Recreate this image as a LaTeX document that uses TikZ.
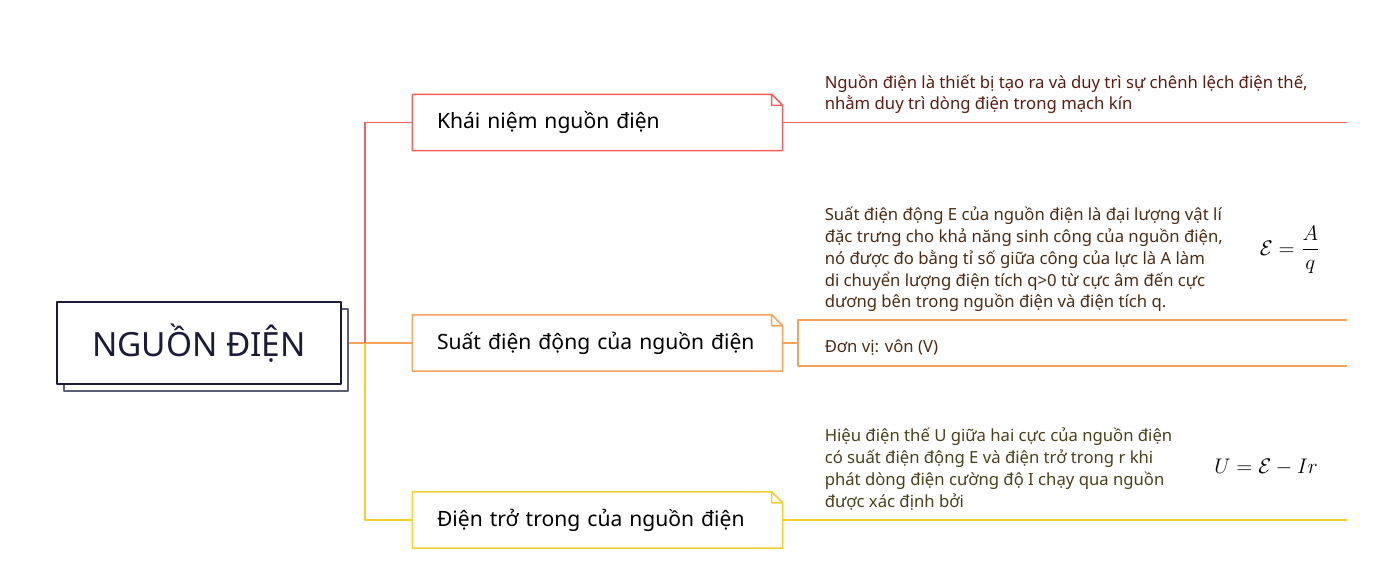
\documentclass[tikz,border=0pt]{standalone}
\usepackage{fontspec}
\setmainfont{Noto Sans}
\usetikzlibrary{shadows,calc}
\definecolor{navy}{HTML}{1B1B3A}
\definecolor{navyshade}{HTML}{5B5E78}
\definecolor{redline}{HTML}{F25F5C}
\definecolor{orangeline}{HTML}{F7A25B}
\definecolor{yellowline}{HTML}{F3D02E}
\definecolor{redtext}{HTML}{5E1A0F}
\definecolor{orangetext}{HTML}{4E2C12}
\definecolor{yellowtext}{HTML}{4A4019}
\begin{document}
\begin{tikzpicture}[x=0.02cm,y=-0.02cm,line join=round,line width=0.85pt,
  mainbox/.style={draw=navy,line width=1pt,fill=white,minimum width=5.68cm,minimum height=1.64cm,
    font=\fontsize{19}{22}\selectfont,text=navy,
    copy shadow={shadow xshift=0.14cm,shadow yshift=-0.14cm,draw=navyshade,fill=white}},
  branch/.style={minimum width=7.38cm,minimum height=1.1cm,text width=6.42cm,inner xsep=0.48cm,
    inner ysep=0pt,align=left,font=\fontsize{12}{14}\selectfont},
  leaf/.style={anchor=base west,inner sep=0pt,align=left,font=\fontsize{9.5}{12.5}\selectfont},
  formula/.style={font=\fontsize{12.5}{15}\selectfont}]
\useasboundingbox (0,0) rectangle (1383,587);

\node[mainbox] (main) at (199,343) {NGUỒN ĐIỆN};

\node[branch] (kn) at (597.5,122.5) {Khái niệm nguồn điện};
\node[branch] (sd) at (597.5,343) {Suất điện động của nguồn điện};
\node[branch] (dt) at (597.5,520) {Điện trở trong của nguồn điện};

\coordinate (trunk) at (365,343);
\coordinate (knend) at (1347,122.5);
\coordinate (sdfork) at (798,343);
\coordinate (sdtop) at (1347,320);
\coordinate (sdbot) at (1347,366);
\coordinate (dtend) at (1347,520);

\draw[orangeline,line width=1.1pt]([xshift=0.14cm]main.east)--(sd.west);
\draw[redline](trunk)|-(kn.west);
\draw[yellowline](trunk)|-(dt.west);
\draw[redline](kn.east)--(knend);
\draw[orangeline](sd.east)--(sdfork)|-(sdtop);
\draw[orangeline](sdfork)|-(sdbot);
\draw[yellowline](dt.east)--(dtend);

\foreach \b/\c in {kn/redline,sd/orangeline,dt/yellowline}
  \draw[\c](\b.south west)|-([xshift=-0.22cm]\b.north east)--([yshift=-0.22cm]\b.north east)|-cycle
    ([xshift=-0.22cm]\b.north east)|-([yshift=-0.22cm]\b.north east);

\node[leaf,text=redtext] (knleaf) at (824,110) {Nguồn điện là thiết bị tạo ra và duy trì sự chênh lệch điện thế,\\nhằm duy trì dòng điện trong mạch kín};
\node[leaf,text=orangetext] (sdleaf) at (824,308) {Suất điện động E của nguồn điện là đại lượng vật lí\\đặc trưng cho khả năng sinh công của nguồn điện,\\nó được đo bằng tỉ số giữa công của lực là A làm\\di chuyển lượng điện tích q>0 từ cực âm đến cực\\dương bên trong nguồn điện và điện tích q.};
\node[leaf,text=orangetext] (donvi) at (824,353) {Đơn vị: vôn (V)};
\node[leaf,text=yellowtext] (dtleaf) at (824,507) {Hiệu điện thế U giữa hai cực của nguồn điện\\có suất điện động E và điện trở trong r khi\\phát dòng điện cường độ I chạy qua nguồn\\được xác định bởi};

\node[formula] (emf) at (1290,250) {$\displaystyle\mathcal{E}=\frac{A}{q}$};
\node[formula] (ohm) at (1266,467) {$U=\mathcal{E}-Ir$};
\end{tikzpicture}
\end{document}
